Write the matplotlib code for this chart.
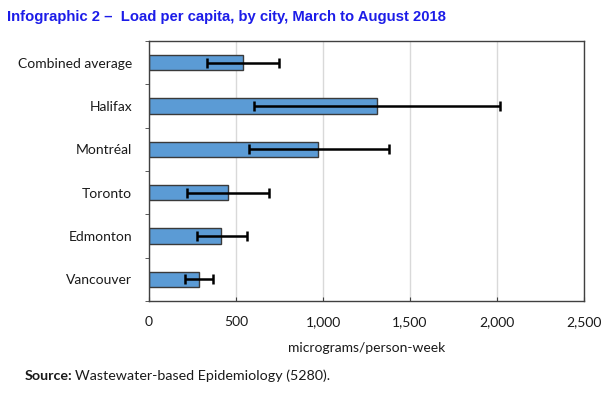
import numpy as np
import matplotlib
matplotlib.use("Agg")
import matplotlib.pyplot as plt
from matplotlib.ticker import FuncFormatter, FixedLocator

# --- DATA ---
cities = ["Combined average", "Halifax", "Montréal", "Toronto", "Edmonton", "Vancouver"]
load = [542, 1312, 973, 456, 412, 285]
err_low = [335, 605, 576, 220, 274, 205]
err_high = [749, 2015, 1377, 688, 561, 370]

title = "Infographic 2 \u2013  Load per capita, by city, March to August 2018"
xlabel = "micrograms/person-week"

# --- PLOT ---
fig = plt.figure(figsize=(6.06, 3.96), dpi=100)
ax = fig.add_axes([0.2459, 0.2399, 0.7178, 0.6566])

y = np.arange(len(cities))
load_arr = np.array(load)
xerr = np.vstack([load_arr - np.array(err_low), np.array(err_high) - load_arr])

ax.barh(y, load, height=0.35, color="#5b9bd5", edgecolor="#3a3a3a", linewidth=1, zorder=2)
ax.errorbar(load, y, xerr=xerr, fmt="none", ecolor="black", elinewidth=1.8,
            capsize=3.5, capthick=1.8, zorder=3)

ax.set_xlim(0, 2500)
ax.set_ylim(len(cities) - 0.5, -0.5)
ax.set_xticks(np.arange(0, 2501, 500))
ax.xaxis.set_major_formatter(FuncFormatter(lambda v, p: f"{int(v):,}"))
ax.set_yticks(y)
ax.set_yticklabels(cities)
ax.yaxis.set_minor_locator(FixedLocator(np.arange(-0.5, len(cities), 1)))

ax.grid(axis="x", color="#d9d9d9", linewidth=1, zorder=0)
ax.set_axisbelow(True)

for s in ax.spines.values():
    s.set_color("#404040")
    s.set_linewidth(1)

font = "Lato"
ax.tick_params(axis="x", direction="in", length=3, pad=11, labelsize=10, color="#404040")
ax.tick_params(axis="y", which="major", length=0, pad=12, labelsize=10)
ax.tick_params(axis="y", which="minor", direction="out", length=3, color="#404040")
for lbl in ax.get_xticklabels() + ax.get_yticklabels():
    lbl.set_fontfamily(font)
    lbl.set_color("#1a1a1a")

ax.set_xlabel(xlabel, fontfamily=font, fontsize=10, labelpad=10, color="#1a1a1a")

fig.text(0.011, 0.957, title, fontfamily="Liberation Sans", fontweight="bold",
         fontsize=10.7, color="#1c1ce8", ha="left", va="center")

fig.text(0.041, 0.05, "Source:", fontfamily=font, fontweight="bold", fontsize=10.3,
         color="#1a1a1a", ha="left", va="center")
fig.text(0.041 + 0.083, 0.05, "Wastewater-based Epidemiology (5280).", fontfamily=font,
         fontsize=10.3, color="#1a1a1a", ha="left", va="center")

fig.savefig("out.png", dpi=100)
